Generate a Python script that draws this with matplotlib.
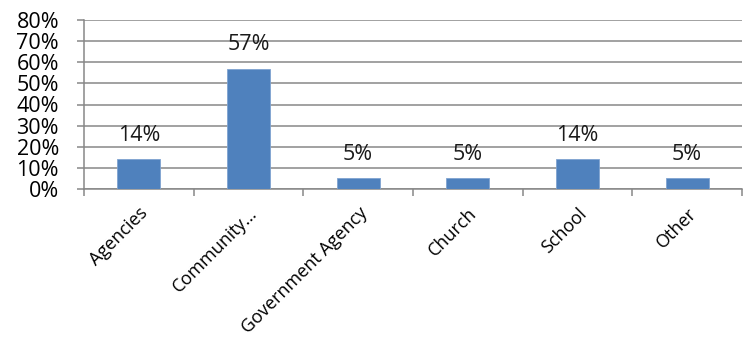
import matplotlib.pyplot as plt
import numpy as np

categories = ["Agencies", "Community…", "Government Agency", "Church", "School", "Other"]
shares = [0.14, 0.57, 0.05, 0.05, 0.14, 0.05]
value_labels = ["14%", "57%", "5%", "5%", "14%", "5%"]
yticks = [0.0, 0.1, 0.2, 0.3, 0.4, 0.5, 0.6, 0.7, 0.8]
ytick_labels = ["0%", "10%", "20%", "30%", "40%", "50%", "60%", "70%", "80%"]

plt.rcParams["font.family"] = ["Open Sans", "DejaVu Sans"]
grey = "#878787"

fig = plt.figure(figsize=(7.44, 3.39), dpi=100)
ax = fig.add_axes([84 / 744, 150 / 339, 658 / 744, 169 / 339])

x = np.arange(len(categories))
ax.bar(x, shares, width=0.39, color="#4F81BD", edgecolor="#7FA3D0", linewidth=0.6, zorder=3)

for xi, v, lab in zip(x, shares, value_labels):
    ax.annotate(lab, (xi, v), xytext=(0, 10), textcoords="offset points",
                ha="center", va="bottom", fontsize=15.5, color="#1a1a1a")

ax.set_xlim(-0.5, len(categories) - 0.5)
ax.set_ylim(0, 0.8)
ax.set_yticks(yticks)
ax.set_yticklabels(ytick_labels, fontsize=15.5)
ax.yaxis.grid(True, color=grey, linewidth=1.1, zorder=0)
ax.tick_params(axis="y", length=5, width=1.1, color=grey, pad=13)

ax.set_xticks(x)
ax.set_xticklabels(categories, rotation=45, ha="right", rotation_mode="anchor", fontsize=13)
ax.set_xticks(np.arange(-0.5, len(categories)), minor=True)
ax.tick_params(axis="x", which="major", length=0, pad=11)
ax.tick_params(axis="x", which="minor", length=5, width=1.1, color=grey)

for side in ["top", "right"]:
    ax.spines[side].set_visible(False)
for side in ["left", "bottom"]:
    ax.spines[side].set_color(grey)
    ax.spines[side].set_linewidth(1.1)

fig.savefig("out.png", dpi=100)
